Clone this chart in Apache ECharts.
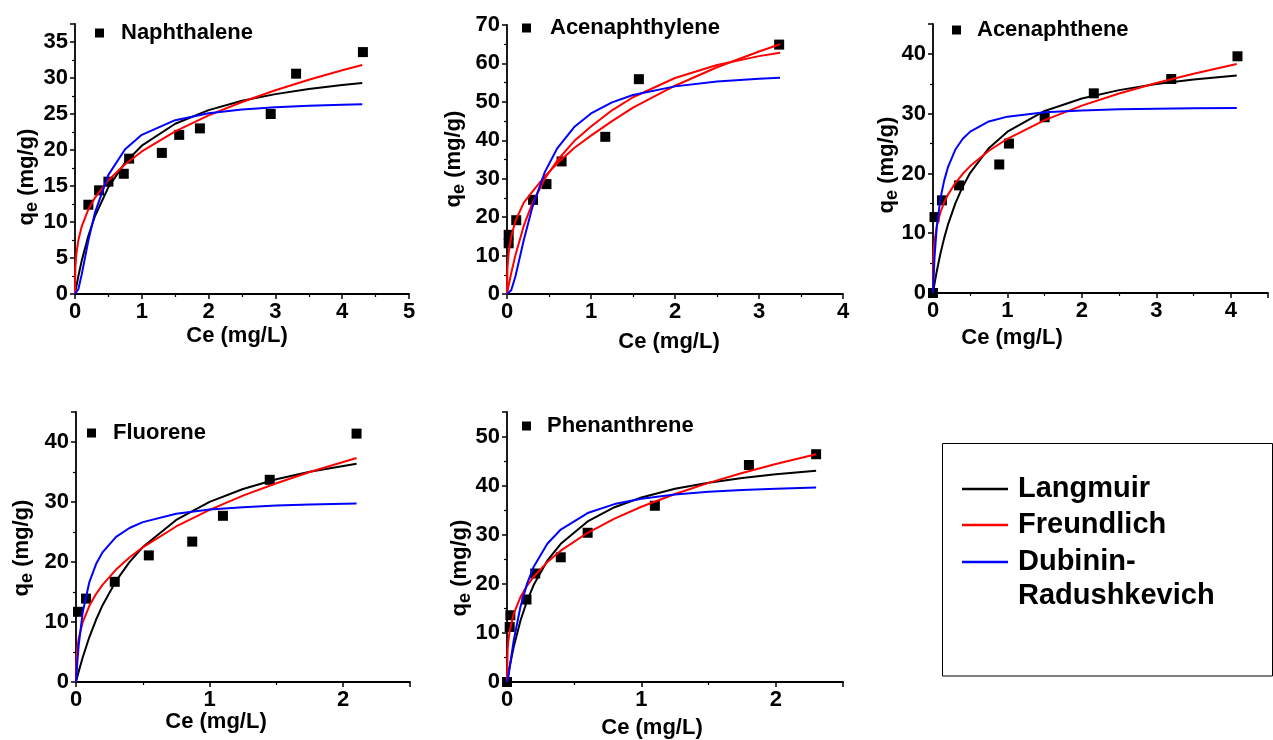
<!DOCTYPE html>
<html>
<head>
<meta charset="utf-8">
<title>Adsorption isotherms</title>
<script src="https://cdn.jsdelivr.net/npm/echarts@6.0.0/dist/echarts.min.js"></script>
<style>
html, body { margin: 0; padding: 0; background: #fff; }
#container { width: 1273px; height: 740px; }
</style>
</head>
<body>
<div id="container"></div>
<script>
var FONT = "'Liberation Sans', Arial, sans-serif";

//Naphthalene
var naphPtX = [0.20, 0.36, 0.50, 0.73, 0.81, 1.30, 1.56, 1.87, 2.93, 3.31, 4.31];
var naphPtY = [12.4, 14.4, 15.6, 16.7, 18.8, 19.6, 22.1, 23.0, 25.0, 30.6, 33.6];
var naphX = [0, 0.005, 0.02, 0.05, 0.1, 0.2, 0.3, 0.5, 0.75, 1, 1.5, 2, 2.5, 3, 3.5, 4, 4.3];
var naphLang = [0, 0.26, 1.03, 2.47, 4.60, 8.09, 10.83, 14.85, 18.25, 20.60, 23.65, 25.54, 26.83, 27.76, 28.47, 29.02, 29.30];
var naphFreu = [0, 3.54, 5.55, 7.48, 9.37, 11.74, 13.39, 15.81, 18.03, 19.80, 22.59, 24.80, 26.67, 28.30, 29.75, 31.07, 31.81];
var naphDR = [0, 0, 0.06, 0.66, 2.69, 7.42, 11.34, 16.54, 20.11, 22.11, 24.14, 25.09, 25.61, 25.93, 26.13, 26.27, 26.34];

//Acenaphthylene
var acylPtX = [0.02, 0.02, 0.11, 0.31, 0.47, 0.65, 1.17, 1.57, 3.24];
var acylPtY = [13.2, 15.4, 19.2, 24.5, 28.6, 34.5, 40.9, 55.9, 64.9];
var acylX = [0, 0.005, 0.02, 0.05, 0.1, 0.2, 0.3, 0.45, 0.6, 0.8, 1, 1.25, 1.5, 2, 2.5, 3, 3.25];
var acylLang = [0, 0.58, 2.26, 5.40, 10.07, 17.77, 23.5, 30.0, 34.8, 39.8, 43.6, 47.8, 51.2, 56.2, 59.6, 61.9, 62.8];
var acylFreu = [0, 6.61, 10.78, 14.90, 19.0, 23.8, 26.6, 30.6, 34.0, 38.0, 41.2, 45.0, 48.5, 54.2, 59.0, 63.1, 65.0];
var acylDR = [0, 0, 0.06, 0.97, 4.57, 14.06, 22.46, 31.72, 37.97, 43.44, 46.98, 49.87, 51.77, 54.03, 55.27, 56.01, 56.29];

//Acenaphthene
var acenPtX = [0, 0.02, 0.12, 0.35, 0.89, 1.02, 1.50, 2.16, 3.20, 4.09];
var acenPtY = [0, 12.7, 15.5, 18.0, 21.5, 25.0, 29.4, 33.4, 35.8, 39.6];
var acenX = [0, 0.005, 0.01, 0.02, 0.05, 0.1, 0.15, 0.2, 0.3, 0.4, 0.5, 0.75, 1, 1.5, 2, 2.5, 3, 3.5, 4.08];
var acenLang = [0, 0.39, 0.77, 1.52, 3.60, 6.62, 9.18, 11.39, 15.00, 17.83, 20.10, 24.22, 26.98, 30.45, 32.54, 33.94, 34.95, 35.70, 36.37];
var acenFreu = [0, 5.82, 7.07, 8.59, 11.12, 13.51, 15.14, 16.41, 18.40, 19.94, 21.23, 23.80, 25.80, 28.91, 31.35, 33.38, 35.13, 36.69, 38.30];
var acenDR = [0, 1.49, 3.12, 5.86, 11.0, 15.8, 18.8, 21.0, 24.0, 25.8, 27.0, 28.7, 29.5, 30.24, 30.55, 30.72, 30.82, 30.89, 30.94];

//Fluorene
var fluoPtX = [0.015, 0.075, 0.29, 0.545, 0.87, 1.10, 1.45, 2.10];
var fluoPtY = [11.7, 13.9, 16.7, 21.1, 23.4, 27.7, 33.7, 41.4];
var fluoX = [0, 0.005, 0.01, 0.02, 0.05, 0.1, 0.15, 0.2, 0.3, 0.4, 0.5, 0.75, 1, 1.25, 1.5, 1.75, 2.1];
var fluoLang = [0, 0.44, 0.88, 1.73, 4.08, 7.49, 10.37, 12.84, 16.86, 19.99, 22.49, 27.01, 30.02, 32.17, 33.78, 35.04, 36.39];
var fluoFreu = [0, 4.40, 5.62, 7.19, 9.94, 12.70, 14.66, 16.24, 18.74, 20.75, 22.45, 25.92, 28.70, 31.06, 33.13, 34.99, 37.32];
var fluoDR = [0, 1.65, 3.33, 6.10, 11.57, 16.66, 19.66, 21.66, 24.18, 25.67, 26.65, 28.04, 28.74, 29.14, 29.40, 29.57, 29.73];

//Phenanthrene
var phenPtX = [0, 0.02, 0.025, 0.145, 0.21, 0.40, 0.60, 1.10, 1.80, 2.30];
var phenPtY = [0, 11.2, 13.6, 16.8, 22.1, 25.4, 30.4, 35.9, 44.2, 46.4];
var phenX = [0, 0.005, 0.01, 0.02, 0.05, 0.1, 0.15, 0.2, 0.3, 0.4, 0.6, 0.8, 1, 1.25, 1.5, 1.75, 2, 2.3];
var phenLang = [0, 0.83, 1.63, 3.15, 7.17, 12.48, 16.59, 19.85, 24.71, 28.15, 32.71, 35.60, 37.59, 39.35, 40.61, 41.57, 42.31, 43.02];
var phenFreu = [0, 6.73, 8.37, 10.41, 13.89, 17.29, 19.64, 21.50, 24.43, 26.75, 30.40, 33.28, 35.70, 38.30, 40.56, 42.58, 44.41, 46.41];
var phenDR = [0, 0.35, 1.11, 2.97, 8.46, 15.33, 20.09, 23.54, 28.16, 31.06, 34.42, 36.24, 37.34, 38.20, 38.75, 39.13, 39.39, 39.61];

// axis ranges per panel
var xMax = [5, 4, 4.5, 2.5, 2.5];
var yMax = [37.5, 70, 45, 45, 55];
var yStep = [5, 10, 10, 10, 10];

var BLACK = '#000000', RED = '#ff0000', BLUE = '#0000ff';

function pairs(xs, ys) {
  return xs.map(function (x, i) { return [x, ys[i]]; });
}

function xAxisOf(i) {
  return {
    type: 'value', gridIndex: i, min: 0, max: xMax[i], interval: 1,
    axisLine: { show: true, onZero: false, lineStyle: { color: BLACK, width: 1.8 } },
    axisTick: { show: true, inside: false, length: 5, lineStyle: { color: BLACK, width: 1.5 } },
    minorTick: { show: true, splitNumber: 2, length: 3, lineStyle: { color: BLACK, width: 1.2 } },
    splitLine: { show: false },
    axisLabel: { color: BLACK, fontSize: 22, fontWeight: 'bold', fontFamily: FONT, margin: 7,
      showMinLabel: true, showMaxLabel: xMax[i] % 1 === 0 }
  };
}

function yAxisOf(i) {
  return {
    type: 'value', gridIndex: i, min: 0, max: yMax[i], interval: yStep[i],
    axisLine: { show: true, onZero: false, lineStyle: { color: BLACK, width: 1.8 } },
    axisTick: { show: true, inside: false, length: 5, lineStyle: { color: BLACK, width: 1.5 } },
    minorTick: { show: true, splitNumber: 2, length: 3, lineStyle: { color: BLACK, width: 1.2 } },
    splitLine: { show: false },
    axisLabel: { color: BLACK, fontSize: 22, fontWeight: 'bold', fontFamily: FONT, margin: 7,
      showMinLabel: true, showMaxLabel: yMax[i] % yStep[i] === 0 }
  };
}

function points(i, name, xs, ys) {
  return {
    name: name, type: 'scatter', xAxisIndex: i, yAxisIndex: i,
    symbol: 'rect', symbolSize: 10, itemStyle: { color: BLACK, opacity: 1 },
    data: pairs(xs, ys), z: 2
  };
}

function curve(i, name, color, xs, ys) {
  return {
    name: name, type: 'line', xAxisIndex: i, yAxisIndex: i,
    showSymbol: false, smooth: false,
    itemStyle: { color: color }, lineStyle: { color: color, width: 2 },
    data: pairs(xs, ys), z: 3
  };
}

function panelLegend(name, left, top, gap) {
  return {
    data: [name], left: left, top: top, padding: 0, selectedMode: false,
    icon: 'rect', itemWidth: 9, itemHeight: 9,
    itemStyle: { opacity: 1 },
    textStyle: { color: BLACK, fontSize: 22, fontWeight: 'bold', fontFamily: FONT, padding: [0, 0, 0, gap] }
  };
}

function xName(cx, cy) {
  return {
    type: 'text', x: cx, y: cy,
    style: { text: 'Ce (mg/L)', fill: BLACK, font: 'bold 22px ' + FONT,
      align: 'center', verticalAlign: 'middle', textAlign: 'center', textVerticalAlign: 'middle' }
  };
}

function yName(cx, cy) {
  var base = { fontFamily: FONT, fontWeight: 'bold', fill: BLACK };
  return {
    type: 'text', x: cx, y: cy, rotation: Math.PI / 2,
    style: {
      text: '{q|q}{e|e}{u| (mg/g)}', fill: BLACK, font: 'bold 22px ' + FONT,
      align: 'center', verticalAlign: 'middle', textAlign: 'center', textVerticalAlign: 'middle',
      rich: {
        q: Object.assign({ fontSize: 22 }, base),
        e: Object.assign({ fontSize: 18, padding: [10, 0, 0, 0] }, base),
        u: Object.assign({ fontSize: 22 }, base)
      }
    }
  };
}

var dom = document.getElementById('container');
var myChart = echarts.init(dom, null, { renderer: 'canvas' });

var option = {
  backgroundColor: '#ffffff',
  animation: false,
  grid: [
    { left: 75, top: 24, width: 334, height: 270 },
    { left: 507, top: 25, width: 336, height: 269 },
    { left: 933, top: 24, width: 335, height: 269 },
    { left: 76, top: 412, width: 334, height: 270 },
    { left: 507, top: 412, width: 336, height: 270 }
  ],
  xAxis: [xAxisOf(0), xAxisOf(1), xAxisOf(2), xAxisOf(3), xAxisOf(4)],
  yAxis: [yAxisOf(0), yAxisOf(1), yAxisOf(2), yAxisOf(3), yAxisOf(4)],
  legend: [
    panelLegend('Naphthalene', 95, 22, 12),
    panelLegend('Acenaphthylene', 522, 17, 14),
    panelLegend('Acenaphthene', 952, 19, 11),
    panelLegend('Fluorene', 87, 422, 12),
    panelLegend('Phenanthrene', 522, 415, 11),
    {
      data: ['Langmuir', 'Freundlich'], orient: 'vertical', left: 962, top: 472,
      padding: 0, itemGap: 2, selectedMode: false,
      icon: 'rect', itemWidth: 46, itemHeight: 2.5,
      textStyle: { color: BLACK, fontSize: 29, fontWeight: 'bold', fontFamily: FONT, lineHeight: 34, padding: [0, 0, 0, 5] }
    },
    {
      // blank first line keeps "Dubinin-" level with its line
      data: ['Dubinin-Radushkevich'], orient: 'vertical', left: 962, top: 511,
      padding: 0, selectedMode: false,
      icon: 'rect', itemWidth: 46, itemHeight: 2.5,
      formatter: function () { return ' \nDubinin-\nRadushkevich'; },
      textStyle: { color: BLACK, fontSize: 29, fontWeight: 'bold', fontFamily: FONT, lineHeight: 34, padding: [0, 0, 0, 5] }
    }
  ],
  graphic: [
    { type: 'rect', shape: { x: 942.5, y: 443.5, width: 330, height: 232.5 },
      style: { fill: 'none', stroke: BLACK, lineWidth: 1 } },
    xName(237, 336), xName(669, 342), xName(1012, 338), xName(216, 722), xName(652, 728),
    yName(27, 177), yName(454, 159), yName(887, 165), yName(22, 548), yName(460, 568)
  ],
  series: [
    points(0, 'Naphthalene', naphPtX, naphPtY),
    curve(0, 'Langmuir', BLACK, naphX, naphLang),
    curve(0, 'Freundlich', RED, naphX, naphFreu),
    curve(0, 'Dubinin-Radushkevich', BLUE, naphX, naphDR),

    points(1, 'Acenaphthylene', acylPtX, acylPtY),
    curve(1, 'Langmuir', RED, acylX, acylLang),
    curve(1, 'Freundlich', RED, acylX, acylFreu),
    curve(1, 'Dubinin-Radushkevich', BLUE, acylX, acylDR),

    points(2, 'Acenaphthene', acenPtX, acenPtY),
    curve(2, 'Langmuir', BLACK, acenX, acenLang),
    curve(2, 'Freundlich', RED, acenX, acenFreu),
    curve(2, 'Dubinin-Radushkevich', BLUE, acenX, acenDR),

    points(3, 'Fluorene', fluoPtX, fluoPtY),
    curve(3, 'Langmuir', BLACK, fluoX, fluoLang),
    curve(3, 'Freundlich', RED, fluoX, fluoFreu),
    curve(3, 'Dubinin-Radushkevich', BLUE, fluoX, fluoDR),

    points(4, 'Phenanthrene', phenPtX, phenPtY),
    curve(4, 'Langmuir', BLACK, phenX, phenLang),
    curve(4, 'Freundlich', RED, phenX, phenFreu),
    curve(4, 'Dubinin-Radushkevich', BLUE, phenX, phenDR)
  ]
};

if (option && typeof option === 'object') {
  myChart.setOption(option, true);
}
</script>
</body>
</html>
